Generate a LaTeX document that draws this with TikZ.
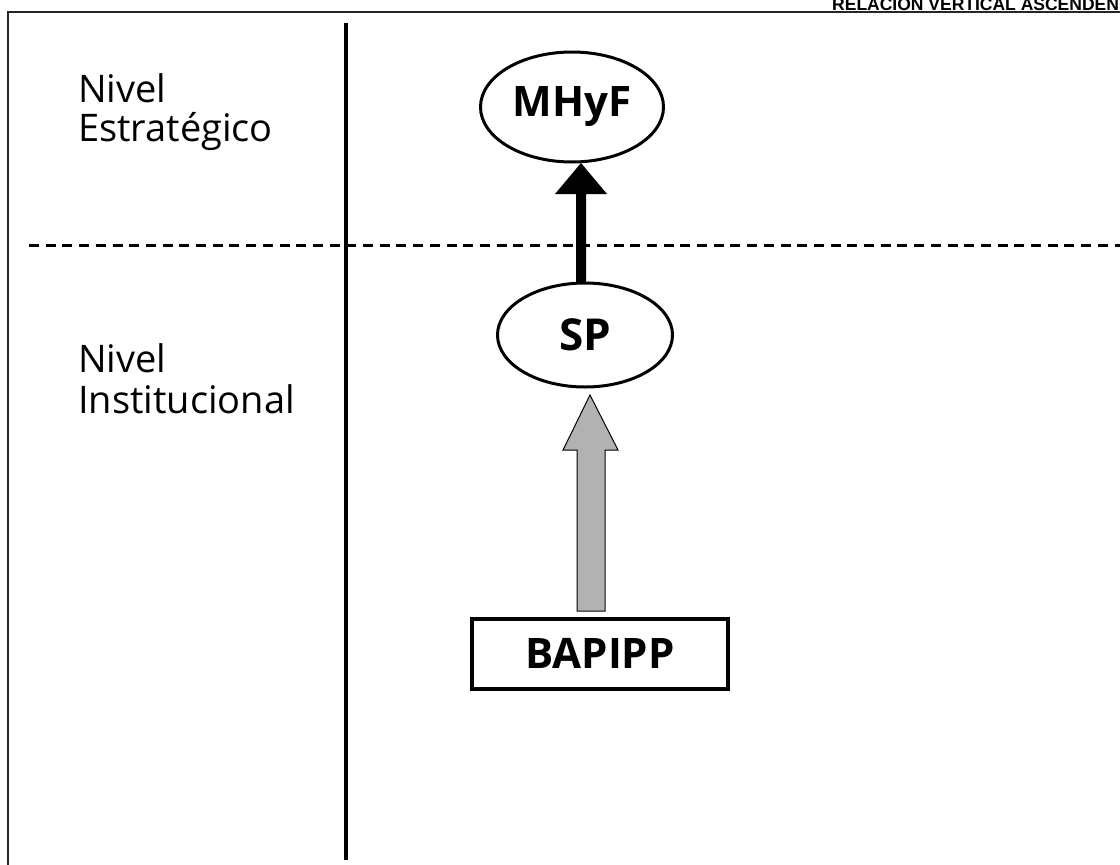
\documentclass[tikz,border=0pt]{standalone}
\usepackage{fontspec}
\setmainfont{Open Sans}
\newfontfamily\hdrfont{Liberation Sans}
\usetikzlibrary{shapes.geometric}
\tikzset{
  lvl/.style={anchor=base west, inner sep=0pt, font=\fontsize{38}{40}\selectfont},
  oval/.style={ellipse, draw, line width=3pt, inner sep=0pt, fill=white},
  boxnode/.style={rectangle, draw, line width=4pt, inner sep=0pt, fill=white},
  blockarrow/.style={fill=black!30, draw=black, line width=1pt, line join=miter},
  solidarrow/.style={fill=black},
}
\begin{document}
\begin{tikzpicture}[x=1pt,y=-1pt]
\path[use as bounding box, clip] (0,0) rectangle (1120,865);
% frame
\draw[line width=2.2pt, black!85] (8,870) -- (8,12) -- (1125,12);
% header text (cropped at top, as in the reference)
\node[anchor=base west, inner sep=0pt, font=\hdrfont\bfseries\fontsize{17.5}{19}\selectfont] (hdr) at (832,10.5) {RELACION VERTICAL ASCENDENTE};
% vertical divider
\draw[line width=4pt] (346,23) -- (346,860);
% dashed level separator
\draw[line width=3pt, dash pattern=on 10pt off 6.7pt] (29,245) -- (1125,245);
% level labels
\node[lvl] (l1a) at (78,102) {Nivel};
\node[lvl] (l1b) at (78,141) {Estratégico};
\node[lvl] (l2a) at (78,372) {Nivel};
\node[lvl] (l2b) at (78,413) {Institucional};
% nodes
\node[oval, minimum width=183pt, minimum height=110pt, font=\bfseries\fontsize{42}{45}\selectfont] (mhyf) at (572,107) {MHyF};
\node[oval, minimum width=175pt, minimum height=104pt, font=\bfseries\fontsize{44}{46}\selectfont] (sp) at (585,335) {SP};
\node[boxnode, minimum width=256pt, minimum height=70pt, font=\bfseries\fontsize{42}{44}\selectfont] (bapipp) at (600,653.5) {BAPIPP};
% black arrow SP -> MHyF
\fill[solidarrow] (576,283) -- (576,194) -- (555,194) -- (581,163) -- (607,194) -- (586,194) -- (586,283) -- cycle;
% grey block arrow BAPIPP -> SP
\draw[blockarrow] (577,611) -- (577,450) -- (563,450) -- (590,395) -- (618,450) -- (605,450) -- (605,611) -- cycle;
\end{tikzpicture}
\end{document}
